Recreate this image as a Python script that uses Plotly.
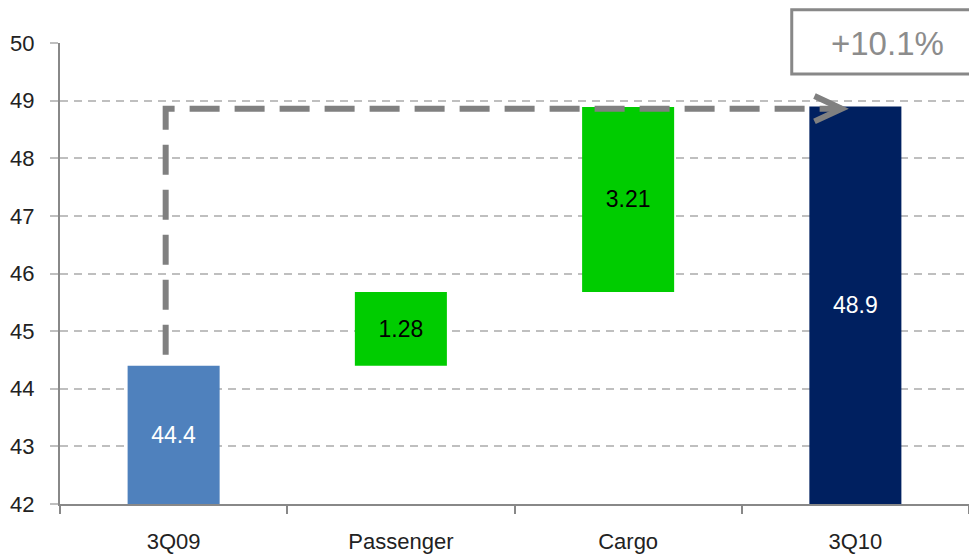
import plotly.graph_objects as go

# Revenue bridge: 3Q09 -> 3Q10
categories = ["3Q09", "Passenger", "Cargo", "3Q10"]
start_value = 44.4
changes = [1.28, 3.21]
end_value = 48.9
growth_label = "+10.1%"

axis_min, axis_max = 42, 50
y_ticks = [42, 43, 44, 45, 46, 47, 48, 49, 50]

# Floating bar geometry derived from the bridge values
bases = [axis_min]
tops = [start_value]
running = start_value
for c in changes:
    bases.append(running)
    running += c
    tops.append(running)
bases.append(axis_min)
tops.append(end_value)
heights = [t - b for t, b in zip(tops, bases)]
labels = [f"{start_value:.1f}"] + [f"{c:.2f}" for c in changes] + [f"{end_value:.1f}"]

colors = ["#4F81BD", "#00CC00", "#00CC00", "#002060"]
text_colors = ["white", "black", "black", "white"]

fig = go.Figure()
fig.add_trace(go.Bar(
    x=categories,
    y=heights,
    base=bases,
    width=0.405,
    marker=dict(color=colors, line=dict(width=0)),
    text=labels,
    textposition="inside",
    insidetextanchor="middle",
    textfont=dict(size=23, color=text_colors, family="Liberation Sans"),
    textangle=0,
    hoverinfo="skip",
    showlegend=False,
))

# Dashed connector from the 3Q09 bar up and across to 3Q10
arrow_color = "#808080"
x_start = -0.035
x_end = 2.94
y_low = start_value + 0.19
y_level = end_value - 0.04
fig.add_shape(type="path",
              path=f"M {x_start} {y_low} L {x_start} {y_level} L {x_end} {y_level}",
              xref="x", yref="y",
              line=dict(color=arrow_color, width=6, dash="30px,15px"))
# Chevron arrowhead
head_dx, head_dy = 0.12, 0.22
fig.add_shape(type="path",
              path=(f"M {x_end - head_dx} {y_level + head_dy} L {x_end} {y_level} "
                    f"L {x_end - head_dx} {y_level - head_dy}"),
              xref="x", yref="y",
              line=dict(color=arrow_color, width=6))

# Growth call-out box
fig.add_shape(type="rect", xref="paper", yref="paper",
              x0=0.805, x1=1.03, y0=0.933, y1=1.072,
              line=dict(color="#888888", width=3), fillcolor="rgba(255,255,255,0)")
fig.add_annotation(text=growth_label, xref="paper", yref="paper",
                   x=0.91, y=1.0, xanchor="center", yanchor="middle", showarrow=False,
                   font=dict(size=33, color="#8C8C8C", family="Liberation Sans"))

fig.update_layout(
    width=969, height=559,
    margin=dict(l=60, r=0, t=43, b=55),
    paper_bgcolor="white", plot_bgcolor="white",
    font=dict(family="Liberation Sans", color="#222222"),
    bargap=0.6,
)
fig.update_xaxes(
    type="category",
    showline=True, linecolor="#888888", linewidth=2,
    ticks="outside", tickson="boundaries", ticklen=8, tickcolor="#888888", tickwidth=2,
    tickfont=dict(size=22, color="#222222"),
    ticklabelstandoff=17,
    showgrid=False,
)
fig.update_yaxes(
    range=[axis_min, axis_max],
    tickvals=y_ticks,
    showline=True, linecolor="#888888", linewidth=2,
    ticks="outside", ticklen=8, tickcolor="#BFBFBF", tickwidth=1.5,
    tickfont=dict(size=22, color="#222222"),
    ticklabelstandoff=11,
    showgrid=True, gridcolor="#BFBFBF", gridwidth=1.5, griddash="8px,6px",
    zeroline=False,
)

fig.write_html("out.html")
